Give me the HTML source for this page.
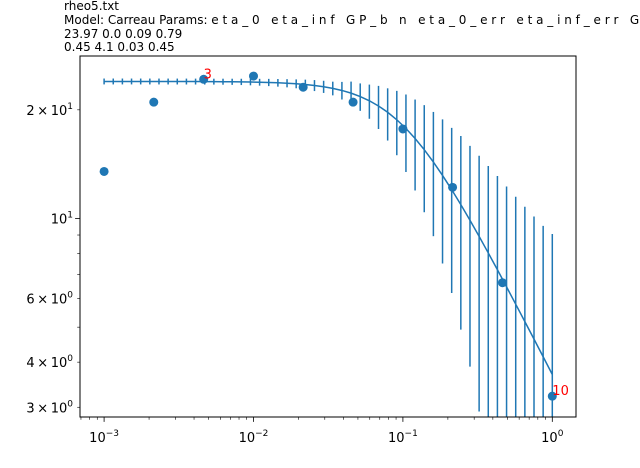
<!DOCTYPE html>
<html><head><meta charset="utf-8">
<style>
html,body{margin:0;padding:0;background:#fff;width:640px;height:468px;overflow:hidden;}
svg{display:block;font-family:"DejaVu Sans","Liberation Sans",sans-serif;}
</style></head>
<body>
<svg id="chart" width="640" height="468" viewBox="0 0 640 468" xmlns="http://www.w3.org/2000/svg">
  <g font-size="12" fill="#000" style="white-space:pre">
    <text x="64" y="10">rheo5.txt</text>
    <text x="64" y="24" xml:space="preserve">Model: Carreau Params: e t a _ 0   e t a _ i n f   G P _ b   n   e t a _ 0 _ e r r   e t a _ i n f _ e r r   G P</text>
    <text x="64" y="38">23.97 0.0 0.09 0.79</text>
    <text x="64" y="51">0.45 4.1 0.03 0.45</text>
  </g>
  <defs><clipPath id="plotclip"><rect x="80" y="56" width="496" height="361"/></clipPath></defs>
  <g id="errbars" clip-path="url(#plotclip)"></g>
  <g id="fitline" clip-path="url(#plotclip)"></g>
  <g id="points" clip-path="url(#plotclip)"></g>
  <g id="annots"></g>
  <g id="axes"></g>
</svg>
<script>
// data
const pointX = [0.001, 0.00215, 0.00464, 0.01, 0.0215, 0.0464, 0.1, 0.215, 0.464, 1.0];
const pointY = [13.5, 21.0, 24.3, 24.8, 23.1, 21.0, 17.7, 12.2, 6.64, 3.22];
const fitParams = [23.97, 0.1, -0.405]; // eta0, time-scale, exponent
const fitErr = [0.45,0.45,0.45,0.45,0.45,0.45,0.45,0.45,0.45,0.45,0.45,0.45,0.45,0.46,0.47,0.48,0.5,0.52,0.55,0.58,0.62,0.67,0.74,0.82,0.9,1.0,1.27,1.7,1.9,2.3,2.8,3.25,3.8,4.3,4.7,5.1,5.4,5.66,5.8,6.0,6.0,6.0,5.95,5.9,5.8,5.7,5.6,5.5,5.4,5.36];
const labelIdx = [2, 9];
const labelText = ["3", "10"];
const xMajorTicks = [-3, -2, -1, 0];
const xTickLabels = ["10", "10", "10", "10"];
const xTickExps = ["\u22123", "\u22122", "\u22121", "0"];
const yTickVals = [3, 4, 6, 10, 20];
const yTickMant = ["3\u2009\u00d7\u200910", "4\u2009\u00d7\u200910", "6\u2009\u00d7\u200910", "10", "2\u2009\u00d7\u200910"];
const yTickExps = ["0", "0", "0", "1", "1"];

const NS = "http://www.w3.org/2000/svg";
const L = 80, R = 576, T = 56, B = 417;
function xs(v){ return 552.3 + Math.log10(v) * 149.4; }
function ys(v){ return 218.5 - (Math.log10(v) - 1) * 361; }
function mk(tag, attrs, parent){ const e = document.createElementNS(NS, tag); for (const k in attrs) e.setAttribute(k, attrs[k]); parent.appendChild(e); return e; }
function model(x){ return fitParams[0] * Math.pow(1 + Math.pow(x / fitParams[1], 2), fitParams[2]); }
const C = "#1f77b4";

const eb = document.getElementById('errbars');
const n = fitErr.length;
const fitX = [];
for (let i = 0; i < n; i++) fitX.push(Math.pow(10, -3 + 3 * i / (n - 1)));
for (let i = 0; i < n; i++) {
  const yv = model(fitX[i]);
  const lo = yv - fitErr[i], hi = yv + fitErr[i];
  const y1 = lo > 0 ? ys(lo) : B + 10;
  const l = mk('line', {x1: xs(fitX[i]), x2: xs(fitX[i]), y1: y1, y2: ys(hi), stroke: C, 'stroke-width': 1.5}, eb);
  
  
}
const fl = document.getElementById('fitline');
let d = "";
for (let i = 0; i < n; i++) d += (i ? "L" : "M") + xs(fitX[i]).toFixed(2) + "," + ys(model(fitX[i])).toFixed(2);
const path = mk('path', {d: d, fill: "none", stroke: C, 'stroke-width': 1.5}, fl);


const pg = document.getElementById('points');
for (let i = 0; i < pointX.length; i++) {
  const c = mk('circle', {cx: xs(pointX[i]), cy: ys(pointY[i]), r: 4.5, fill: C}, pg);
  
  
}
const ag = document.getElementById('annots');
for (let j = 0; j < labelIdx.length; j++) {
  const i = labelIdx[j];
  const t = mk('text', {x: xs(pointX[i]), y: ys(pointY[i]) - 1, fill: "red", 'font-size': 13}, ag);
  t.textContent = labelText[j];
  
  
}
const ax = document.getElementById('axes');
const fr = mk('rect', {x: L, y: T, width: R - L, height: B - T, fill: "none", stroke: "#000", 'stroke-width': 1}, ax);


for (let e = -4; e <= 0; e++) {
  for (let m = 1; m <= 9; m++) {
    const v = m * Math.pow(10, e);
    const x = xs(v);
    if (x < L || x > R) continue;
    const major = m === 1;
    const tk = mk('line', {x1: x, x2: x, y1: B, y2: B + (major ? 4.9 : 2.8), stroke: "#000", 'stroke-width': major ? 0.8 : 0.6}, ax);
    
    
  }
}
for (let k = 0; k < xMajorTicks.length; k++) {
  const x = xs(Math.pow(10, xMajorTicks[k]));
  const t = mk('text', {x: x, y: 442, 'text-anchor': "middle", 'font-size': 13}, ax);
  
  
  t.innerHTML = xTickLabels[k] + '<tspan dy="-6" font-size="9">' + xTickExps[k] + '</tspan>';
}
for (let e = 0; e <= 1; e++) {
  for (let m = 1; m <= 9; m++) {
    const v = m * Math.pow(10, e);
    const y = ys(v);
    if (y < T || y > B) continue;
    const major = m === 1;
    const tk = mk('line', {x1: L, x2: L - (major ? 4.9 : 2.8), y1: y, y2: y, stroke: "#000", 'stroke-width': major ? 0.8 : 0.6}, ax);
    
    
  }
}
for (let k = 0; k < yTickVals.length; k++) {
  const y = ys(yTickVals[k]);
  const t = mk('text', {x: 73, y: y + 5, 'text-anchor': "end", 'font-size': 13}, ax);
  
  
  t.innerHTML = yTickMant[k] + '<tspan dy="-6" font-size="9">' + yTickExps[k] + '</tspan>';
}
</script>
</body></html>
